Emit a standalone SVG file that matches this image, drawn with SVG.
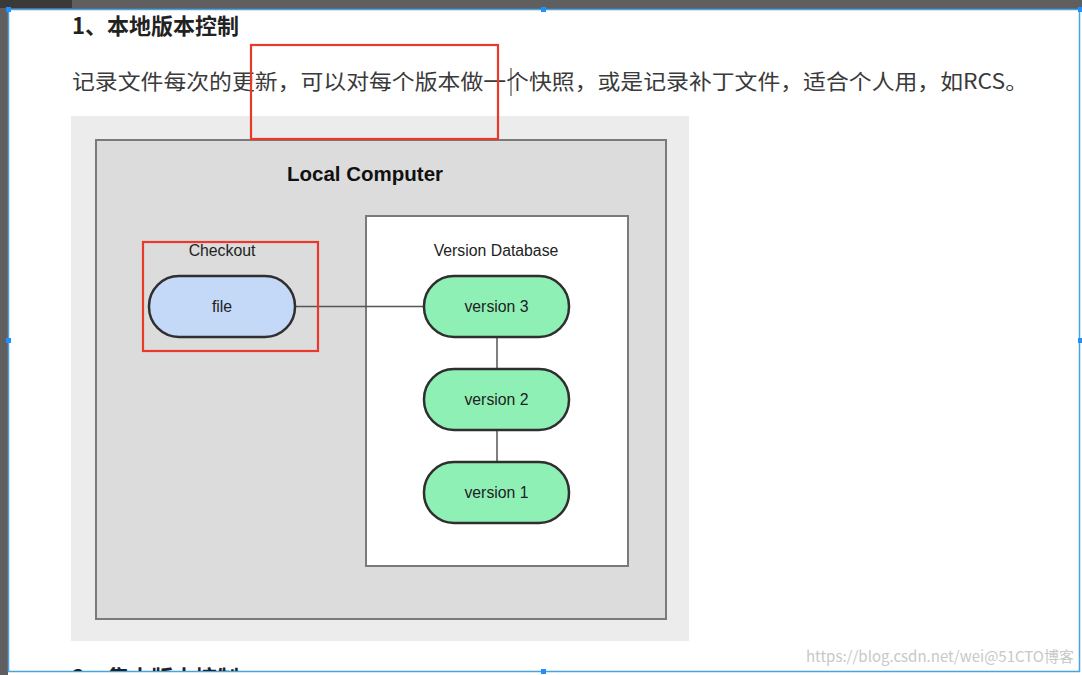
<svg xmlns="http://www.w3.org/2000/svg" width="1082" height="675" viewBox="0 0 1082 675">
<defs>
<style>
.cn{font-family:"Noto Sans CJK SC","Liberation Sans",sans-serif;}
.lat{font-family:"Liberation Sans",Arial,sans-serif;}
.pill{stroke:#2f2f2f;stroke-width:2.5;}
.lbl{font-family:"Liberation Sans",Arial,sans-serif;font-size:15.8px;fill:#222;text-anchor:middle;}
.red{fill:none;stroke:#e8392b;stroke-width:2.2;}
.conn{stroke:#555;stroke-width:1.5;fill:none;}
.handle{fill:#1e90ff;}
</style>
<clipPath id="pg"><rect x="9" y="11" width="1071" height="660"/></clipPath>
</defs>
<rect x="0" y="0" width="1082" height="675" fill="#ffffff"/>
<rect x="0" y="0" width="1082" height="9" fill="#5f5f5f"/>
<rect x="0" y="0" width="72" height="8" fill="#3a3a3a"/>
<rect x="0" y="9" width="8" height="666" fill="#5f5f5f"/>
<rect x="8.5" y="9.5" width="1071" height="662" fill="none" stroke="#4aa3df" stroke-width="1.5"/>
<g clip-path="url(#pg)">
<text class="cn" x="72" y="34" font-size="22" font-weight="bold" fill="#222">1、本地版本控制</text>
<text class="cn" x="72" y="89" font-size="21" fill="#3a3a3a" textLength="956" lengthAdjust="spacingAndGlyphs">记录文件每次的更新，可以对每个版本做一个快照，或是记录补丁文件，适合个人用，如RCS。</text>
<line x1="511" y1="68" x2="511" y2="96" stroke="#333" stroke-width="1"/>
<rect id="area" x="71" y="116" width="618" height="525" fill="#ececec"/>
<g id="local-computer">
<rect x="96" y="140" width="570" height="479" fill="#dcdcdc" stroke="#7a7a7a" stroke-width="2"/>
<text class="lat" x="365" y="181" font-size="20.5" font-weight="bold" fill="#111" text-anchor="middle">Local Computer</text>
</g>
<g id="version-database">
<rect x="366" y="216" width="262" height="350" fill="#ffffff" stroke="#7a7a7a" stroke-width="2"/>
<text class="lbl" x="496" y="256">Version Database</text>
</g>
<g id="connectors">
<line class="conn" x1="295" y1="306.5" x2="424" y2="306.5"/>
<line class="conn" x1="497" y1="337" x2="497" y2="369"/>
<line class="conn" x1="497" y1="430" x2="497" y2="462"/>
</g>
<g id="checkout">
<text class="lbl" x="222" y="256">Checkout</text>
</g>
<g id="file">
<rect class="pill" x="149" y="276" width="146" height="61" rx="30" fill="#c4d8f8"/>
<text class="lbl" x="222" y="312">file</text>
</g>
<g id="version3">
<rect class="pill" x="424" y="276" width="145" height="61" rx="30" fill="#8ff0b6"/>
<text class="lbl" x="496.5" y="312">version 3</text>
</g>
<g id="version2">
<rect class="pill" x="424" y="369" width="145" height="61" rx="30" fill="#8ff0b6"/>
<text class="lbl" x="496.5" y="405">version 2</text>
</g>
<g id="version1">
<rect class="pill" x="424" y="462" width="145" height="61" rx="30" fill="#8ff0b6"/>
<text class="lbl" x="496.5" y="498">version 1</text>
</g>
<rect class="red" x="251" y="45" width="247" height="94"/>
<rect class="red" x="143" y="242" width="175" height="109"/>
<text class="cn" x="806" y="662" font-size="15" fill="#c8c8c8" textLength="268" lengthAdjust="spacingAndGlyphs">https://blog.csdn.net/wei@51CTO博客</text>
<text class="cn" x="72" y="686" font-size="22" font-weight="bold" fill="#222">2、集中版本控制</text>
</g>
<rect class="handle" x="6" y="7" width="5" height="5"/>
<rect class="handle" x="541" y="7" width="5" height="5"/>
<rect class="handle" x="1078" y="7" width="4" height="5"/>
<rect class="handle" x="6" y="338" width="5" height="5"/>
<rect class="handle" x="1078" y="338" width="4" height="5"/>
<rect class="handle" x="541" y="669" width="5" height="5"/>
</svg>
